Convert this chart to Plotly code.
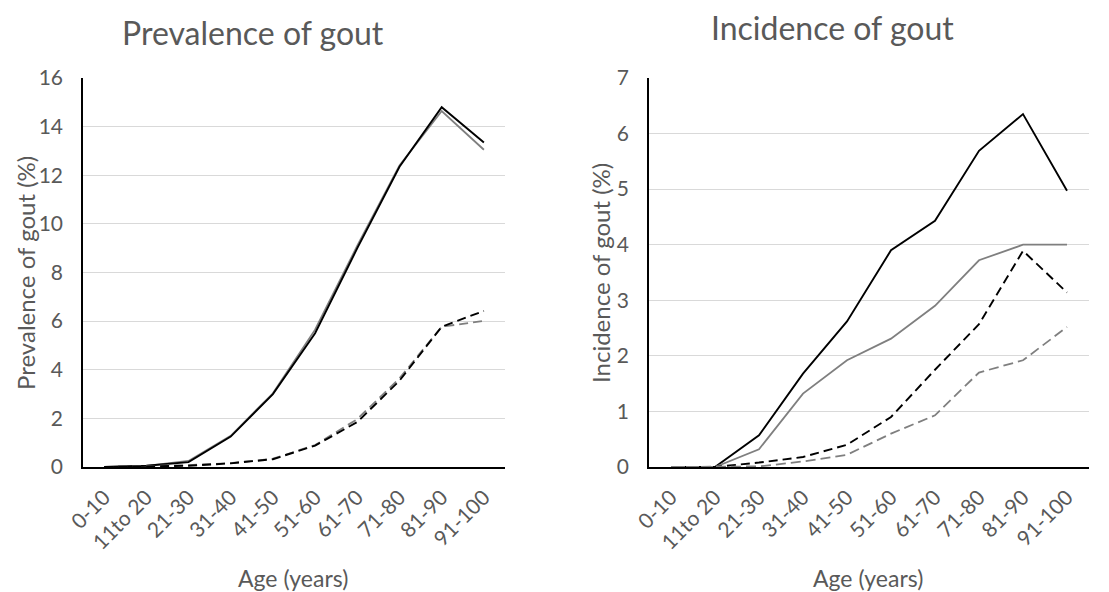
import plotly.graph_objects as go

ages = ["0-10", "11to 20", "21-30", "31-40", "41-50", "51-60", "61-70", "71-80", "81-90", "91-100"]

# Prevalence of gout (%)
prev_black_solid = [0, 0.05, 0.2, 1.25, 3.0, 5.5, 9.0, 12.35, 14.8, 13.35]
prev_gray_solid = [0, 0.05, 0.25, 1.28, 3.03, 5.65, 9.1, 12.4, 14.64, 13.05]
prev_black_dash = [0, 0.02, 0.05, 0.15, 0.32, 0.88, 1.85, 3.55, 5.77, 6.42]
prev_gray_dash = [0, 0.03, 0.08, 0.16, 0.34, 0.9, 1.97, 3.65, 5.77, 6.01]

# Incidence of gout (%)
inc_black_solid = [0, 0, 0.57, 1.68, 2.62, 3.9, 4.43, 5.69, 6.35, 4.97]
inc_gray_solid = [0, 0, 0.32, 1.32, 1.92, 2.31, 2.9, 3.72, 4.0, 4.0]
inc_black_dash = [0, 0, 0.08, 0.18, 0.4, 0.9, 1.75, 2.57, 3.89, 3.14]
inc_gray_dash = [0, 0, 0.01, 0.1, 0.22, 0.6, 0.93, 1.7, 1.92, 2.52]

BLACK = "#000000"
GRAY = "#7f7f7f"
TXT = "#595959"
FONT = "Lato, 'Open Sans', sans-serif"
W, H = 1109, 592

fig = go.Figure()

def add(vals, color, dash, xa, ya, width):
    fig.add_trace(go.Scatter(x=ages, y=vals, mode="lines",
                             line=dict(color=color, dash=dash, width=width),
                             xaxis=xa, yaxis=ya, showlegend=False, hoverinfo="skip"))

add(prev_gray_solid, GRAY, "solid", "x", "y", 1.8)
add(prev_black_solid, BLACK, "solid", "x", "y", 1.9)
add(prev_gray_dash, GRAY, "9px,5px", "x", "y", 1.8)
add(prev_black_dash, BLACK, "9px,5px", "x", "y", 1.9)

add(inc_black_solid, BLACK, "solid", "x2", "y2", 1.9)
add(inc_gray_solid, GRAY, "solid", "x2", "y2", 1.8)
add(inc_black_dash, BLACK, "9px,5px", "x2", "y2", 1.9)
add(inc_gray_dash, GRAY, "10px,5px", "x2", "y2", 1.8)

y_dom = [1 - 467 / H, 1 - 78 / H]

xcommon = dict(type="category", showline=True, linecolor=BLACK, linewidth=1.6,
               showgrid=False, tickangle=-45, ticks="",
               tickfont=dict(family=FONT, size=21, color=TXT), ticklabelstandoff=8,
               range=[-0.5, 9.5], fixedrange=True)
ycommon = dict(showline=True, linecolor=BLACK, linewidth=1.6, showgrid=True,
               gridcolor="#d9d9d9", gridwidth=1.2, zeroline=False, ticks="",
               tickfont=dict(family=FONT, size=21, color=TXT), ticklabelstandoff=14,
               fixedrange=True)

fig.update_layout(
    autosize=True,
    margin=dict(l=0, r=0, t=0, b=0, autoexpand=False),
    paper_bgcolor="white", plot_bgcolor="white",
    xaxis=dict(domain=[83 / W, 505 / W], anchor="y", **xcommon),
    yaxis=dict(domain=y_dom, anchor="x", range=[0, 16], dtick=2, **ycommon),
    xaxis2=dict(domain=[649 / W, 1089 / W], anchor="y2", **xcommon),
    yaxis2=dict(domain=y_dom, anchor="x2", range=[0, 7], dtick=1, **ycommon),
)

ann = [
    dict(text="Prevalence of gout", x=253 / W, y=1 - 32 / H, font=dict(size=32)),
    dict(text="Incidence of gout", x=832 / W, y=1 - 28 / H, font=dict(size=32)),
    dict(text="Age (years)", x=293 / W, y=1 - 578 / H, font=dict(size=23)),
    dict(text="Age (years)", x=868 / W, y=1 - 578 / H, font=dict(size=23)),
    dict(text="Prevalence of gout (%)", x=25 / W, y=1 - 273 / H, font=dict(size=24), textangle=-90),
    dict(text="Incidence of gout (%)", x=600 / W, y=1 - 273 / H, font=dict(size=24), textangle=-90),
]
for a in ann:
    f = a.pop("font")
    fig.add_annotation(xref="paper", yref="paper", showarrow=False,
                       xanchor="center", yanchor="middle",
                       font=dict(family=FONT, color=TXT, size=f["size"]), **a)

fig.write_html("out.html", default_width="100vw", default_height="100vh",
               config={"displayModeBar": False, "responsive": True},
               post_script="document.body.style.margin='0';document.body.style.overflow='hidden';")
